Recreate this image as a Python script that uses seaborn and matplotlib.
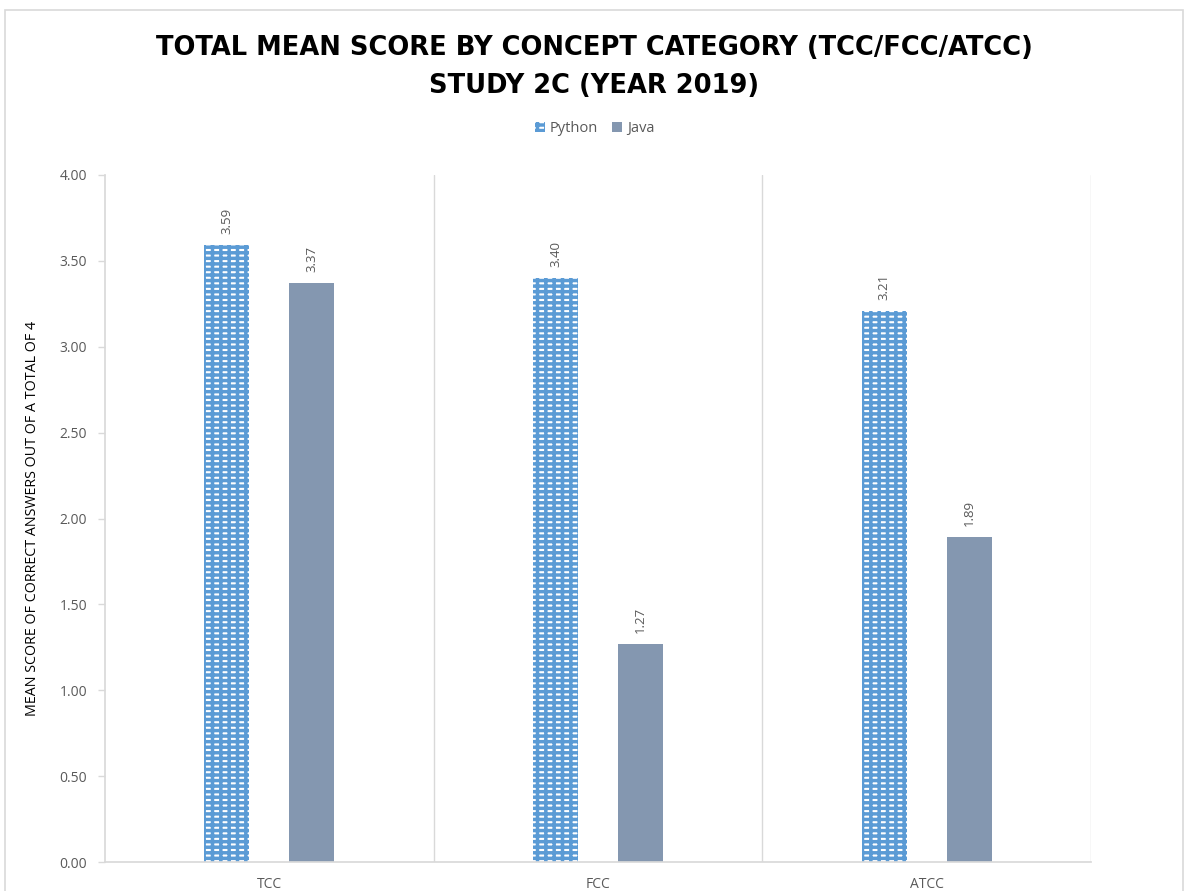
import matplotlib
matplotlib.use("Agg")
import matplotlib.pyplot as plt
import seaborn as sns
import pandas as pd
from matplotlib.patches import Patch, Rectangle

categories = ["TCC", "FCC", "ATCC"]
series = ["Python", "Java"]
python_vals = [3.59, 3.40, 3.21]
java_vals = [3.37, 1.27, 1.89]
yticks = [0.0, 0.5, 1.0, 1.5, 2.0, 2.5, 3.0, 3.5, 4.0]
title_lines = ["TOTAL MEAN SCORE BY CONCEPT CATEGORY (TCC/FCC/ATCC)", "STUDY 2C (YEAR 2019)"]

sns.set_theme(style="white")
plt.rcParams['font.family'] = ['Open Sans', 'DejaVu Sans']
plt.rcParams['hatch.linewidth'] = 2.5

df = pd.DataFrame({
    "category": categories * 2,
    "language": ["Python"] * 3 + ["Java"] * 3,
    "value": python_vals + java_vals,
})

py_color = "#5B9BD5"
java_color = "#8497B0"
grid_color = "#D9D9D9"
text_gray = "#595959"
py_hatch = "---||"

fig = plt.figure(figsize=(11.89, 8.91), dpi=100)
ax = fig.add_axes([0.0883, 0.0325, 0.8293, 0.7711])

sns.barplot(data=df, x="category", y="value", hue="language", order=categories,
            hue_order=series, palette=[py_color, java_color], width=0.518, gap=0.47,
            ax=ax, legend=False, linewidth=0, saturation=1)

for cont, name in zip(ax.containers, series):
    for p in cont:
        p.set_linewidth(0)
        if name == "Python":
            p.set_facecolor("white")
            p.set_hatch(py_hatch)
            p.set_edgecolor(py_color)
    ax.bar_label(cont, fmt="%.2f", rotation=90, padding=8, color=text_gray, fontsize=9.5)

ax.set_xlim(-0.5, 2.5)
ax.set_ylim(0, 4.0)
ax.set_yticks(yticks)
ax.set_yticklabels([f"{v:.2f}" for v in yticks], color=text_gray, fontsize=10)
ax.set_xticks(range(len(categories)))
ax.set_xticklabels(categories, color=text_gray, fontsize=10)
ax.set_xlabel("")
ax.set_ylabel("MEAN SCORE OF CORRECT ANSWERS OUT OF A TOTAL OF 4", fontsize=10.3, color="black", labelpad=14)

for x in [0.5, 1.5, 2.5]:
    ax.axvline(x, color=grid_color, linewidth=1, zorder=0)

for s in ["top", "right"]:
    ax.spines[s].set_visible(False)
ax.spines["left"].set_color(grid_color)
ax.spines["bottom"].set_color(grid_color)
ax.tick_params(axis="y", which="major", left=True, length=5, color=grid_color, width=1, pad=8)
ax.tick_params(axis="x", which="major", bottom=False, pad=5)

fig.text(0.5, 1 - 55 / 891, title_lines[0], ha="center", va="baseline", fontsize=18.5,
         fontweight="bold", family=["DejaVu Sans"], color="black")
fig.text(0.5, 1 - 93 / 891, title_lines[1], ha="center", va="baseline", fontsize=18.5,
         fontweight="bold", family=["DejaVu Sans"], color="black")

handles = [Patch(facecolor="white", hatch=py_hatch, edgecolor=py_color, linewidth=0, label="Python"),
           Patch(facecolor=java_color, linewidth=0, label="Java")]
leg = fig.legend(handles=handles, loc="center", bbox_to_anchor=(0.5, 0.856), ncol=2, frameon=False,
                 fontsize=10.5, handlelength=0.7, handleheight=0.7, handletextpad=0.3, columnspacing=1.0)
for t in leg.get_texts():
    t.set_color(text_gray)

fig.patches.append(Rectangle((5 / 1189, -0.1), 1178 / 1189, 1.1 - 10 / 891, transform=fig.transFigure,
                             fill=False, edgecolor=grid_color, linewidth=1.2))

fig.savefig("out.png", dpi=100)
